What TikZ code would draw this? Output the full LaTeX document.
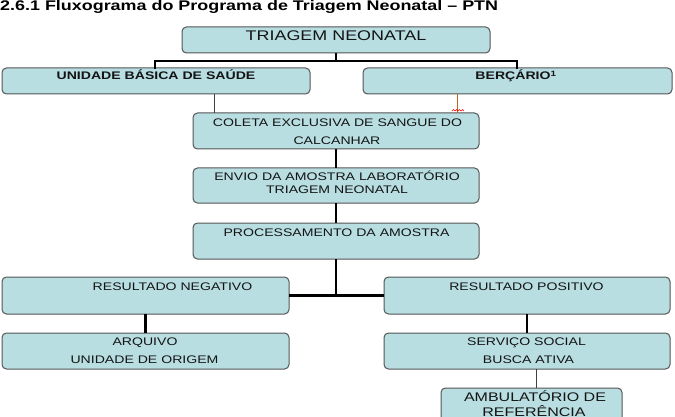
\documentclass[tikz,border=0pt]{standalone}
\usepackage{fontspec}
\setmainfont{Liberation Sans}[FakeStretch=1.28]
\definecolor{boxfill}{RGB}{184,222,226}
\definecolor{boxline}{RGB}{85,85,85}
\definecolor{brownline}{RGB}{190,100,40}
\begin{document}
\begin{tikzpicture}[x=1pt,y=-1pt,
  box/.style={draw=boxline, line width=1pt, fill=boxfill, rounded corners=4.5pt,
              inner sep=0pt, outer sep=0pt},
  txt/.style={anchor=base, inner sep=0pt, text=black!92, font=\fontsize{11}{13}\selectfont},
  thickc/.style={line width=2.8pt, black},
  thinc/.style={line width=0.9pt, black!75}]
\useasboundingbox (0,0) rectangle (675,417);
\clip (0,0) rectangle (675,417);
% title
\node[anchor=base west, inner sep=0pt] (title) at (0,10.5)
  {\bfseries\fontsize{14}{16}\selectfont 2.6.1 Fluxograma do Programa de Triagem Neonatal – PTN};
% boxes
\node[box, minimum width=308pt, minimum height=26pt] (tri) at (336,40) {};
\node[box, minimum width=308pt, minimum height=26pt] (ubs) at (156,81) {};
\node[box, minimum width=309pt, minimum height=26pt] (ber) at (517.5,81) {};
\node[box, minimum width=286pt, minimum height=36pt] (col) at (336,131) {};
\node[box, minimum width=286pt, minimum height=35pt] (env) at (336,185.5) {};
\node[box, minimum width=286pt, minimum height=36pt] (pro) at (336,241) {};
\node[box, minimum width=287pt, minimum height=37pt] (neg) at (145.5,295.5) {};
\node[box, minimum width=286pt, minimum height=37pt] (pos) at (527,295.5) {};
\node[box, minimum width=287pt, minimum height=36pt] (arq) at (145.5,351) {};
\node[box, minimum width=286pt, minimum height=36pt] (ser) at (527,351) {};
\node[box, minimum width=181pt, minimum height=42pt] (amb) at (531.5,409) {};
% texts
\node[txt, font=\fontsize{14}{16}\selectfont] (t-tri) at (336,40.7) {TRIAGEM NEONATAL};
\node[txt, font=\bfseries\fontsize{11}{13}\selectfont] (t-ubs) at (156,80) {UNIDADE BÁSICA DE SAÚDE};
\node[txt, font=\bfseries\fontsize{11}{13}\selectfont] (t-ber) at (516,80) {BERÇÁRIO\textsuperscript{1}};
\node[txt] (t-col1) at (337.5,126.7) {COLETA EXCLUSIVA DE SANGUE DO};
\node[txt] (t-col2) at (337,144.3) {CALCANHAR};
\node[txt] (t-env1) at (337,181) {ENVIO DA AMOSTRA LABORATÓRIO};
\node[txt] (t-env2) at (337,193.3) {TRIAGEM NEONATAL};
\node[txt] (t-pro) at (336.5,236) {PROCESSAMENTO DA AMOSTRA};
\node[txt] (t-neg) at (172.5,290.7) {RESULTADO NEGATIVO};
\node[txt] (t-pos) at (526.5,290.7) {RESULTADO POSITIVO};
\node[txt] (t-arq1) at (145,345.3) {ARQUIVO};
\node[txt] (t-arq2) at (144.5,363.7) {UNIDADE DE ORIGEM};
\node[txt] (t-ser1) at (526.5,345.3) {SERVIÇO SOCIAL};
\node[txt] (t-ser2) at (528.5,363.7) {BUSCA ATIVA};
\node[txt, font=\fontsize{12.5}{14}\selectfont] (t-amb1) at (535,401.7) {AMBULATÓRIO DE};
\node[txt, font=\fontsize{12.5}{14}\selectfont] (t-amb2) at (534,416.7) {REFERÊNCIA};
% helper coordinates
\coordinate (jT) at (336,61);
\coordinate (xL) at (155,0);
\coordinate (xR) at (517,0);
\coordinate (xa) at (214,0);
\coordinate (xb) at (457,0);
\coordinate (xc) at (536,0);
% connectors
\draw[thickc] (tri.south) -- (jT);
\draw[thickc, line cap=rect] (ubs.north -| xL) |- (jT) -| (ber.north -| xR);
\draw[thinc] (ubs.south -| xa) -- (col.north -| xa);
\draw[line width=1pt, brownline] (ber.south -| xb) -- (col.north -| xb);
\draw[red, line width=0.5pt] (452,111) -- (453.5,109.5) -- (455,111) -- (456.5,109.5) -- (458,111)
  -- (459.5,109.5) -- (461,111) -- (462.5,109.5) -- (464,111);
\draw[thickc] (col.south) -- (env.north);
\draw[thickc] (env.south) -- (pro.north);
\draw[thickc] (pro.south) -- (pro.south |- neg.east);
\draw[thickc] (neg.east) -- (pos.west);
\draw[thickc] (neg.south) -- (arq.north);
\draw[thickc] (pos.south) -- (ser.north);
\draw[thinc] (ser.south -| xc) -- (amb.north -| xc);
\end{tikzpicture}
\end{document}
